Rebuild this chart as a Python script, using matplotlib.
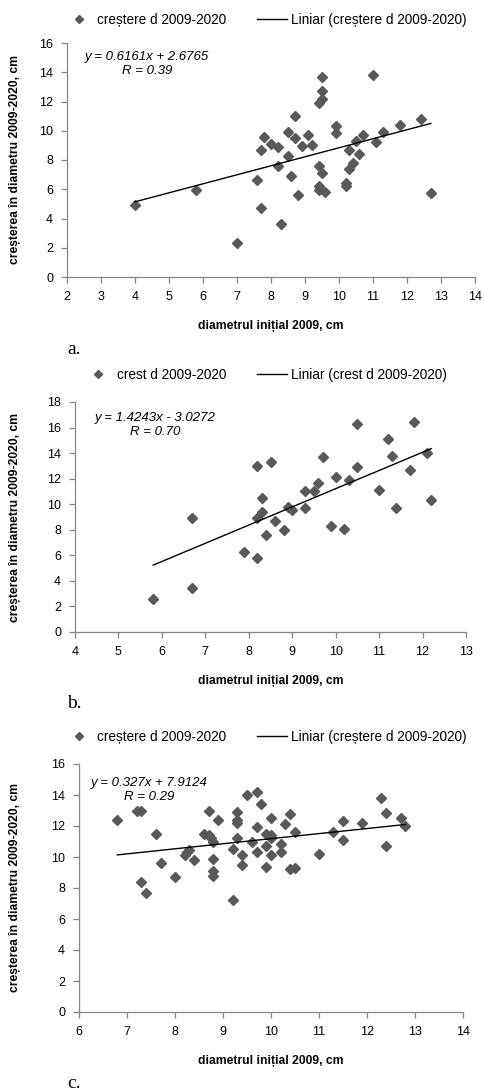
import matplotlib
matplotlib.use("Agg")
import matplotlib.pyplot as plt
from matplotlib.lines import Line2D

plt.rcParams['font.family'] = ['Liberation Sans', 'DejaVu Sans']

# --- panel a data ---
a_x = [4.0, 5.8, 7.0, 7.6, 7.7, 7.7, 7.8, 8.0, 8.2, 8.2, 8.3, 8.5, 8.5, 8.6, 8.7,
       8.7, 8.8, 8.9, 9.1, 9.2, 9.4, 9.4, 9.5, 9.5, 9.5, 9.5, 9.4, 9.4, 9.6, 9.9,
       9.9, 10.2, 10.2, 10.3, 10.3, 10.4, 10.5, 10.6, 10.7, 11.0, 11.1, 11.3, 11.8,
       12.4, 12.7]
a_y = [4.9, 5.95, 2.35, 6.6, 8.7, 4.7, 9.6, 9.1, 8.9, 7.6, 3.65, 8.3, 9.9, 6.9, 11.0,
       9.5, 5.6, 8.95, 9.7, 9.0, 7.6, 11.9, 12.15, 12.7, 13.7, 7.1, 6.2, 5.95, 5.8, 10.3,
       9.85, 6.4, 6.2, 8.7, 7.4, 7.8, 9.3, 8.4, 9.7, 13.8, 9.2, 9.9, 10.4,
       10.8, 5.75]

# --- panel b data ---
b_x = [5.8, 6.7, 6.7, 7.9, 8.2, 8.2, 8.2, 8.3, 8.3, 8.4, 8.5, 8.6, 8.8, 8.9, 9.0,
       9.3, 9.3, 9.5, 9.6, 9.7, 9.9, 10.0, 10.2, 10.3, 10.5, 10.5, 11.0, 11.2, 11.3,
       11.4, 11.7, 11.8, 12.1, 12.2]
b_y = [2.6, 3.45, 8.9, 6.3, 5.8, 13.0, 8.9, 10.5, 9.4, 7.6, 13.3, 8.7, 8.0, 9.8, 9.55,
       11.0, 9.7, 11.0, 11.7, 13.7, 8.3, 12.1, 8.1, 11.9, 16.3, 12.9, 11.1, 15.1, 13.8,
       9.7, 12.7, 16.4, 14.0, 10.3]

# --- panel c data ---
c_x = [6.8, 7.2, 7.3, 7.3, 7.4, 7.6, 7.7, 8.0, 8.2, 8.25, 8.3, 8.4, 8.6, 8.7, 8.7,
       8.75, 8.8, 8.8, 8.8, 8.8, 8.9, 9.2, 9.2, 9.3, 9.3, 9.3, 9.3, 9.4, 9.4, 9.5,
       9.6, 9.7, 9.7, 9.7, 9.8, 9.9, 9.9, 9.9, 10.0, 10.0, 10.0, 10.0, 10.2, 10.2,
       10.3, 10.4, 10.4, 10.5, 10.5, 11.0, 11.3, 11.5, 11.5, 11.9, 12.3, 12.4, 12.4,
       12.7, 12.8]
c_y = [12.4, 13.0, 13.0, 8.4, 7.65, 11.5, 9.6, 8.7, 10.1, 10.3, 10.45, 9.8, 11.5, 13.0, 11.4,
       11.2, 11.0, 9.9, 9.1, 8.75, 12.4, 10.5, 7.2, 12.9, 12.4, 12.2, 11.2, 10.1, 9.5, 14.0,
       11.0, 14.2, 11.96, 10.3, 13.4, 11.5, 10.7, 9.35, 12.5, 11.4, 11.25, 10.1, 10.85, 10.3,
       12.1, 12.8, 9.2, 9.3, 11.6, 10.2, 11.6, 12.3, 11.1, 12.2, 13.8, 12.85, 10.7,
       12.5, 12.0]

panels = [
    dict(x=a_x, y=a_y, slope=0.6161, icpt=2.6765,
         eq="y = 0.6161x + 2.6765\nR = 0.39", name="creștere d 2009-2020",
         xlim=(2, 14), ylim=(0, 16), ystep=2, tag="a."),
    dict(x=b_x, y=b_y, slope=1.4243, icpt=-3.0272,
         eq="y = 1.4243x - 3.0272\nR = 0.70", name="crest d 2009-2020",
         xlim=(4, 13), ylim=(0, 18), ystep=2, tag="b."),
    dict(x=c_x, y=c_y, slope=0.327, icpt=7.9124,
         eq="y = 0.327x + 7.9124\nR = 0.29", name="creștere d 2009-2020",
         xlim=(6, 14), ylim=(0, 16), ystep=2, tag="c."),
]

W, H = 484, 1092
fig = plt.figure(figsize=(W / 100, H / 100), dpi=100)

# pixel boxes (left, top, right, bottom) of each plot area
boxes = [(67, 43, 475, 277), (75, 402, 466, 632), (79, 764, 463, 1012)]
eq_pos = [(147, 64), (155, 425), (149, 790)]
leg_y = [20, 375, 737]

marker_col = '#595959'
axis_col = '#868686'

for p, box, eqp, ly in zip(panels, boxes, eq_pos, leg_y):
    l, t, r, b = box
    ax = fig.add_axes([l / W, 1 - b / H, (r - l) / W, (b - t) / H])
    ax.plot(p['x'], p['y'], 'D', color=marker_col, markersize=5.3, zorder=2)
    # trend line drawn over the data range
    x0, x1 = min(p['x']), max(p['x'])
    ax.plot([x0, x1], [p['slope'] * x0 + p['icpt'], p['slope'] * x1 + p['icpt']],
            color='black', lw=1.0, zorder=3)

    ax.set_xlim(*p['xlim'])
    ax.set_ylim(*p['ylim'])
    ax.set_xticks(range(p['xlim'][0], p['xlim'][1] + 1))
    ax.set_yticks(range(p['ylim'][0], p['ylim'][1] + 1, p['ystep']))
    for s in ['top', 'right']:
        ax.spines[s].set_visible(False)
    for s in ['left', 'bottom']:
        ax.spines[s].set_color(axis_col)
        ax.spines[s].set_linewidth(0.9)
    ax.tick_params(direction='out', length=4, width=0.9, color=axis_col,
                   labelsize=9, labelcolor='black', pad=6)
    ax.patch.set_alpha(0)

    ax.text((eqp[0] - l) / (r - l), (b - eqp[1]) / (b - t), p['eq'],
            transform=ax.transAxes, ha='center', va='center',
            fontsize=9.5, style='italic', linespacing=1.15)

    fig.text(15 / W, 1 - (t + b) / 2 / H, "creșterea în diametru 2009-2020, cm",
             rotation=90, ha='center', va='center', fontsize=8.7, fontweight='bold')
    fig.text((l + r) / 2 / W, 1 - (b + 49) / H, "diametrul inițial 2009, cm",
             ha='center', va='center', fontsize=8.7, fontweight='bold')
    fig.text(67 / W, 1 - (b + 72) / H, p['tag'], ha='left', va='center',
             fontsize=14, family='Liberation Serif')

    handles = [Line2D([], [], ls='none', marker='D', color=marker_col, markersize=4.5),
               Line2D([], [], color='black', lw=1.0)]
    fig.legend(handles, [p['name'], "Liniar (" + p['name'] + ")"],
               loc='center', bbox_to_anchor=(265 / W, 1 - ly / H), ncol=2,
               frameon=False, fontsize=9.8, handlelength=2.2, handletextpad=0.25,
               columnspacing=2.3, borderpad=0)

plt.savefig('out.png', dpi=100)
